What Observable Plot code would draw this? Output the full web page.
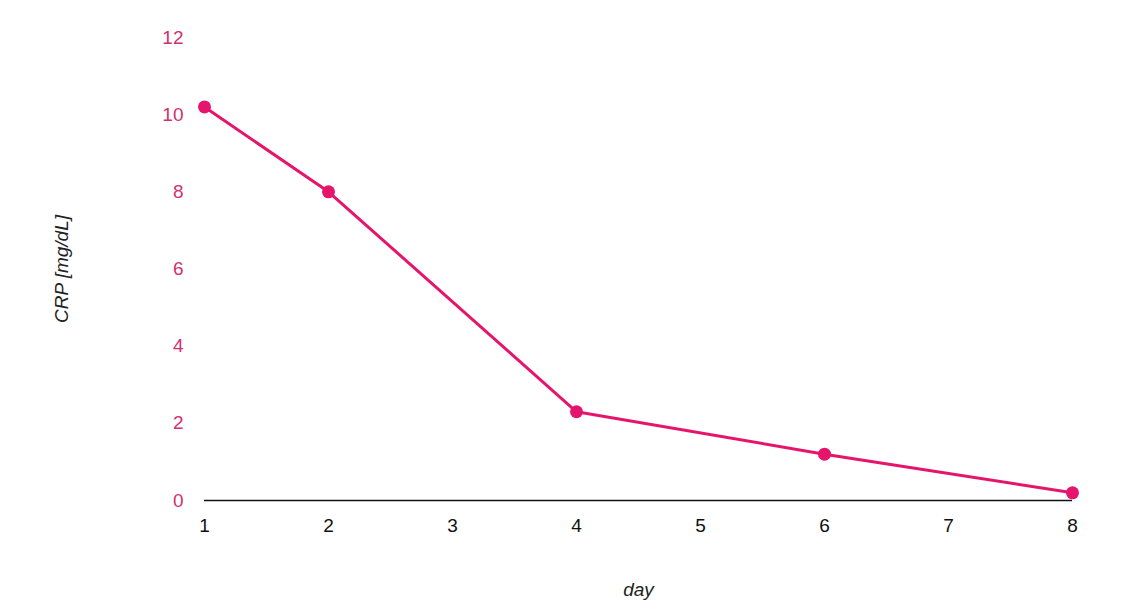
<!DOCTYPE html>
<html>
<head>
<meta charset="utf-8">
<script src="https://cdn.jsdelivr.net/npm/d3@7"></script>
<script src="https://cdn.jsdelivr.net/npm/@observablehq/plot@0.6"></script>
<style>
  html, body { margin: 0; padding: 0; background: #fff; }
  svg { font-family: "Liberation Sans", Arial, sans-serif; }
  g[aria-label="y-axis label"] text, g[aria-label="x-axis label"] text { font-style: italic; fill: #222; }
</style>
</head>
<body>
<div id="chart"></div>
<script>
const days = [1, 2, 4, 6, 8];
const crp = [10.2, 8.0, 2.3, 1.2, 0.2];
const xTicks = [1, 2, 3, 4, 5, 6, 7, 8];
const yTicks = [0, 2, 4, 6, 8, 10, 12];

const data = days.map((d, i) => ({day: d, crp: crp[i]}));
const pink = "#e5156b";

const chart = Plot.plot({
  width: 1121,
  height: 616,
  marginLeft: 204,
  marginRight: 49,
  marginTop: 37,
  marginBottom: 116,
  style: {fontSize: "19px", fontFamily: "Liberation Sans, Arial, sans-serif", background: "#fff"},
  x: {domain: [1, 8]},
  y: {domain: [0, 12]},
  marks: [
    Plot.axisX({ticks: xTicks, tickSize: 0, tickPadding: 18, tickFormat: d => String(d), label: "day", labelAnchor: "center", labelArrow: "none", labelOffset: 95, fill: "#111"}),
    Plot.axisY({ticks: yTicks, tickSize: 0, tickPadding: 21, tickFormat: d => String(d), label: "CRP [mg/dL]", labelAnchor: "center", labelArrow: "none", labelOffset: 150, fill: "#d1306f"}),
    Plot.ruleY([0], {stroke: "#111", strokeWidth: 1.5}),
    Plot.line(data, {x: "day", y: "crp", stroke: pink, strokeWidth: 3}),
    Plot.dot(data, {x: "day", y: "crp", r: 6.5, fill: pink, stroke: "none"})
  ]
});
document.getElementById("chart").appendChild(chart);
</script>
</body>
</html>
